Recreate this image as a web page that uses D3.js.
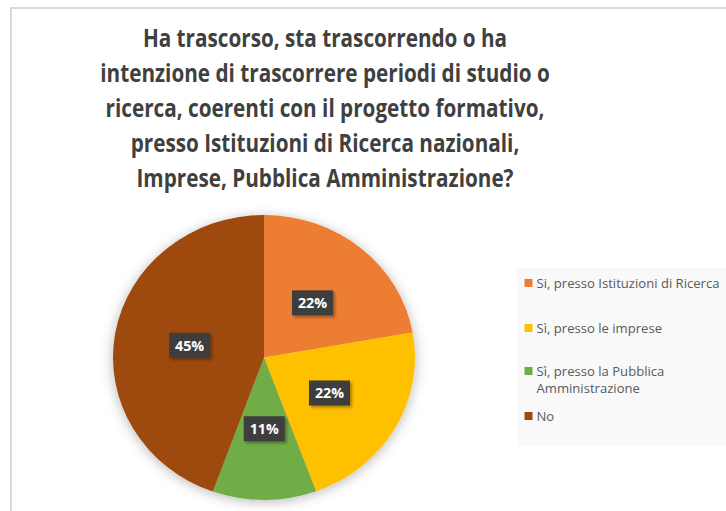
<!DOCTYPE html>
<html><head><meta charset="utf-8">
<script src="https://cdn.jsdelivr.net/npm/d3@7"></script>
<style>html,body{margin:0;padding:0;background:#fff;}svg{display:block;}</style>
</head><body>
<svg id="chart" width="726" height="511"></svg>
<script>
const titleLines = ["Ha trascorso, sta trascorrendo o ha",
  "intenzione di trascorrere periodi di studio o",
  "ricerca, coerenti con il progetto formativo,",
  "presso Istituzioni di Ricerca nazionali,",
  "Imprese, Pubblica Amministrazione?"];
const categories = ["Si, presso Istituzioni di Ricerca", "Sì, presso le imprese", "Sì, presso la Pubblica Amministrazione", "No"];
const legendLines = [["Si, presso Istituzioni di Ricerca"], ["Sì, presso le imprese"], ["Sì, presso la Pubblica", "Amministrazione"], ["No"]];
const values = [22.2, 22.2, 11.1, 44.5];
const colors = ["#ED7D31", "#FFC000", "#70AD47", "#9E480E"];

const svg = d3.select("#chart");
const defs = svg.append("defs");
const sh = defs.append("filter").attr("id","pieShadow").attr("x","-20%").attr("y","-20%").attr("width","140%").attr("height","140%");
sh.append("feDropShadow").attr("dx",0).attr("dy",2).attr("stdDeviation",6).attr("flood-color","#000").attr("flood-opacity",0.28);
const lsh = defs.append("filter").attr("id","lblShadow").attr("x","-30%").attr("y","-30%").attr("width","160%").attr("height","160%");
lsh.append("feDropShadow").attr("dx",2).attr("dy",2).attr("stdDeviation",1.5).attr("flood-color","#000").attr("flood-opacity",0.35);
const pat = defs.append("pattern").attr("id","dots").attr("width",4).attr("height",4).attr("patternUnits","userSpaceOnUse");
pat.append("rect").attr("width",4).attr("height",4).attr("fill","#3d3d3d");
pat.append("rect").attr("x",1).attr("y",1).attr("width",1).attr("height",1).attr("fill","#4a4a4a");

// chart border
svg.append("path").attr("d","M11,511 V8 H726").attr("fill","none").attr("stroke","#d9d9d9").attr("stroke-width",2);

// title
const condense = (sel, f) => sel.each(function(){ const w = this.getComputedTextLength(); d3.select(this).attr("textLength", w*f).attr("lengthAdjust","spacingAndGlyphs"); });
svg.append("g").selectAll("text").data(titleLines).join("text")
  .attr("x", 325).attr("y", (d,i)=>47 + i*35)
  .attr("text-anchor","middle")
  .attr("font-family","'Open Sans', sans-serif").attr("font-weight","bold").attr("font-size",24.5)
  .attr("fill","#404040").text(d=>d)
  .call(condense, 0.845);

// pie
const cx = 264, cy = 357.5, ry = 142.5, sx = 151/142.5;
const pie = d3.pie().sort(null).value(d=>d);
const arcs = pie(values);
const arc = d3.arc().innerRadius(0).outerRadius(ry);
const pg = svg.append("g").attr("transform",`translate(${cx},${cy})`);
pg.append("g").attr("transform",`scale(${sx},1)`).attr("filter","url(#pieShadow)")
  .selectAll("path").data(arcs).join("path")
  .attr("d",arc).attr("fill",(d,i)=>colors[i]);

// labels
const lab = pg.selectAll("g.lab").data(arcs).join("g").attr("class","lab")
  .attr("transform", d=>{ const c = arc.centroid(d); return `translate(${c[0]*sx},${c[1]})`; });
lab.append("rect").attr("x",-20.5).attr("y",-12.5).attr("width",41).attr("height",25)
  .attr("fill","url(#dots)").attr("filter","url(#lblShadow)");
lab.append("text").attr("text-anchor","middle").attr("y",5.5)
  .attr("font-family","'Open Sans', sans-serif").attr("font-weight","bold").attr("font-size",15)
  .attr("fill","#fff").text(d=>Math.round(d.value)+"%")
  .call(condense, 0.95);

// legend
svg.append("rect").attr("x",517).attr("y",268).attr("width",215).attr("height",178).attr("fill","#f9f9f9");
const legendY = [279, 324, 367, 412];
const lg = svg.append("g").selectAll("g").data(categories).join("g")
  .attr("transform",(d,i)=>`translate(524.5,${legendY[i]})`);
lg.append("rect").attr("width",8).attr("height",8).attr("fill",(d,i)=>colors[i]);
lg.each(function(d,i){
  d3.select(this).selectAll("text").data(legendLines[i]).join("text")
    .attr("x",12).attr("y",(t,j)=>9 + j*17)
    .attr("font-family","'Open Sans', sans-serif").attr("font-size",13.5)
    .attr("fill","#595959").text(t=>t)
    .call(condense, 0.97);
});
</script>
</body></html>
